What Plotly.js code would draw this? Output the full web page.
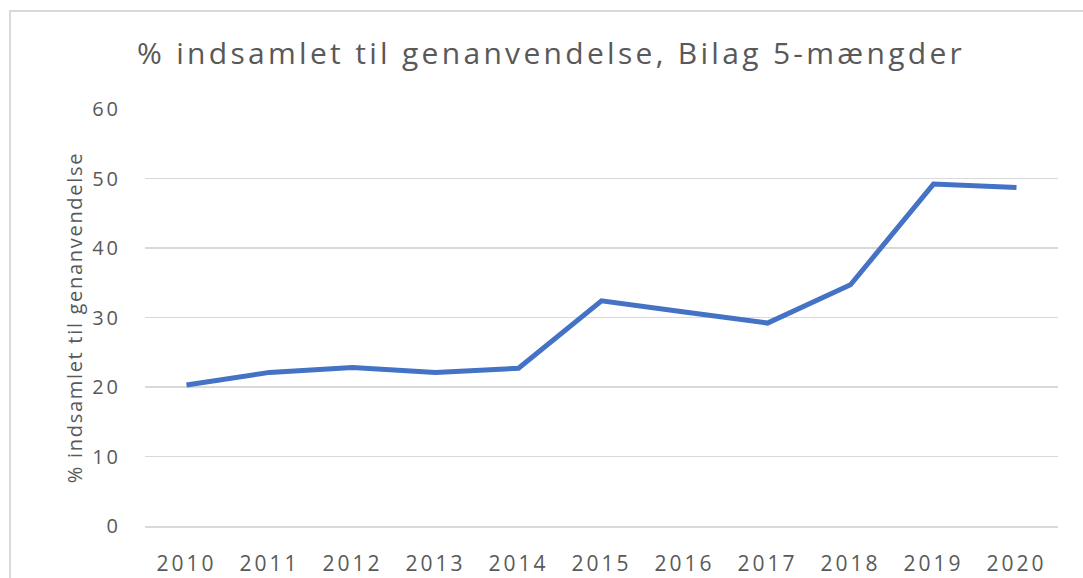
<!DOCTYPE html>
<html>
<head>
<meta charset="utf-8">
<script src="https://cdn.plot.ly/plotly-3.0.1.min.js"></script>
<style>
  html, body { margin: 0; padding: 0; background: #fff; }
  #wrap { position: relative; width: 1083px; height: 578px; overflow: hidden; }
  #chart { position: absolute; left: 0; top: 0; width: 1083px; height: 578px; }
  #frame { position: absolute; left: 9px; top: 10px; width: 1090px; height: 580px;
           border-left: 2px solid #D9D9D9; border-top: 2px solid #D9D9D9; pointer-events: none; }
  #chart .gtitle { letter-spacing: 3.3px; }
  #chart .xtick text { letter-spacing: 3px; }
  #chart .ytick text { letter-spacing: 3px; }
  #chart .ytitle { letter-spacing: 1.7px; }
</style>
</head>
<body>
<div id="wrap">
  <div id="chart"></div>
  <div id="frame"></div>
</div>
<script>
const years = ["2010","2011","2012","2013","2014","2015","2016","2017","2018","2019","2020"];
const pctRecycled = [20.3, 22.1, 22.8, 22.1, 22.7, 32.4, 30.8, 29.2, 34.7, 49.2, 48.7];
const yTicks = [0, 10, 20, 30, 40, 50, 60];

const textColor = "#595959";
const fontFam = "Open Sans, sans-serif";

Plotly.newPlot("chart", [{
  type: "scatter",
  mode: "lines",
  x: years,
  y: pctRecycled,
  line: { color: "#4472C4", width: 5, shape: "linear" },
  hoverinfo: "x+y"
}], {
  width: 1083,
  height: 578,
  margin: { l: 145, r: 25, t: 109, b: 52 },
  paper_bgcolor: "#ffffff",
  plot_bgcolor: "#ffffff",
  showlegend: false,
  title: {
    text: "% indsamlet til genanvendelse, Bilag 5-mængder",
    font: { family: fontFam, size: 30, color: textColor },
    xref: "container", yref: "container",
    x: 137 / 1083, xanchor: "left",
    y: 1 - 53 / 578, yanchor: "middle"
  },
  xaxis: {
    type: "category",
    range: [-0.5, 10.5],
    showgrid: false,
    showline: true,
    linecolor: "#D9D9D9",
    linewidth: 1.5,
    ticks: "",
    ticklabelstandoff: 18,
    tickfont: { family: fontFam, size: 21, color: textColor },
    fixedrange: true
  },
  yaxis: {
    range: [0, 60],
    tickvals: yTicks,
    ticktext: yTicks.map(String),
    showgrid: true,
    gridcolor: "#D9D9D9",
    gridwidth: 1.5,
    zeroline: true,
    zerolinecolor: "#D9D9D9",
    zerolinewidth: 1.5,
    showline: false,
    ticks: "",
    ticklabelstandoff: 23,
    tickfont: { family: fontFam, size: 20, color: textColor },
    title: {
      text: "% indsamlet til genanvendelse",
      font: { family: fontFam, size: 20, color: textColor },
      standoff: 10
    },
    fixedrange: true
  }
}, { displayModeBar: false, staticPlot: true });
</script>
</body>
</html>
